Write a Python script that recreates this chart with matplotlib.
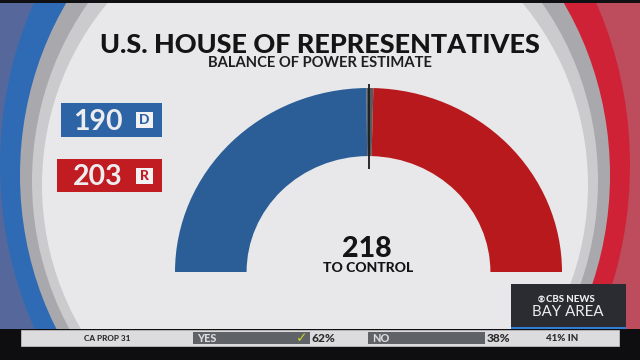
import matplotlib
matplotlib.use("Agg")
import matplotlib.pyplot as plt
import numpy as np
from matplotlib.patches import Rectangle, Ellipse, Circle

# seat estimate drawn on the gauge (435 seats, 218 to control)
gauge_parties = ["D", "Toss-up", "R"]
gauge_seats = [216, 5, 214]
gauge_colors = ["#2b5e97", "#565a61", "#b8191c"]
total_seats = 435
majority = 218

# seats called so far (labels on the left)
called_parties = ["D", "R"]
called_seats = [190, 203]
called_colors = ["#2d64a6", "#c11c21"]

# ticker at the bottom
ticker_race = "CA PROP 31"
ticker_answers = ["YES", "NO"]
ticker_pcts = [62, 38]
ticker_reporting = 41

plt.rcParams["font.family"] = ["Lato", "DejaVu Sans"]

fig = plt.figure(figsize=(6.4, 3.6), dpi=100)
ax = fig.add_axes([0, 0, 1, 1])
ax.set_xlim(0, 640)
ax.set_ylim(360, 0)
ax.axis("off")

# backdrop: blue half, red half, bezel rings and the light disc
left_half = Rectangle((0, 0), 315, 360, fc="#56689b", ec="none")
right_half = Rectangle((315, 0), 325, 360, fc="#bd4c5d", ec="none")
ax.add_patch(left_half)
ax.add_patch(right_half)
ring_b = Ellipse((315, 165), 630, 720, fc="#2f6bb4", ec="none")
ring_r = Ellipse((315, 165), 630, 720, fc="#cf2236", ec="none")
ax.add_patch(ring_b)
ax.add_patch(ring_r)
ring_b.set_clip_path(left_half)
ring_r.set_clip_path(right_half)
ax.add_patch(Ellipse((315, 175), 590, 640, fc="#a9a9ad", ec="none"))
ax.add_patch(Ellipse((315, 181), 566, 596, fc="#cbcbce", ec="none"))
ax.add_patch(Ellipse((315, 185), 546, 560, fc="#e8e8ea", ec="none"))

# black bars top and bottom
ax.add_patch(Rectangle((0, 0), 640, 3, fc="#101012", ec="none"))
ax.add_patch(Rectangle((0, 329), 640, 31, fc="#0e0e10", ec="none"))

renderer = fig.canvas.get_renderer()


def put(x, y, s, width, **kw):
    """Place text and scale its font so it spans `width` pixels."""
    t = ax.text(x, y, s, **kw)
    bb = t.get_window_extent(renderer=renderer)
    t.set_fontsize(t.get_fontsize() * width / bb.width)
    return t


# titles
put(320, 45, "U.S. HOUSE OF REPRESENTATIVES", 440, ha="center", va="center",
    fontsize=20, fontweight="black", color="#141414")
put(320, 63, "BALANCE OF POWER ESTIMATE", 223, ha="center", va="center",
    fontsize=8, fontweight="bold", color="#1e1e1e")

# called seat labels
boxes = [(61, 103, 101, 34), (57, 159, 105, 33)]
for (bx, by, bw, bh), n, p, c in zip(boxes, called_seats, called_parties,
                                     called_colors):
    ax.add_patch(Rectangle((bx, by), bw, bh, fc=c, ec="none"))
    ax.text(bx + bw - 39, by + bh / 2 + 1.5, str(n), ha="right", va="center",
            fontsize=20.5, fontweight="bold", color="#ededef")
    ax.add_patch(Rectangle((136, by + bh / 2 - 8), 17, 16, fc="#f2f2f4", ec="none"))
    ax.text(144.5, by + bh / 2 + 0.5, p, ha="center", va="center",
            fontsize=10, fontweight="black", color=c)

# gauge
gx = fig.add_axes([175 / 640, 88 / 360, 387 / 640, 184 / 360])
gx.patch.set_alpha(0)
hidden = total_seats
gx.pie(gauge_seats + [hidden], colors=gauge_colors + ["none"], startangle=180,
       counterclock=False, radius=1, wedgeprops=dict(width=0.37, linewidth=0))
gx.set_aspect("auto")
gx.set_xlim(-1, 1)
gx.set_ylim(0, 1)
gx.axis("off")
mx = np.cos(np.pi * (1 - majority / total_seats))
gx.plot([mx, mx], [0.56, 1.022], color="#1c1c1c", lw=1.3, clip_on=False,
        solid_capstyle="butt")

ax.text(367, 249, str(majority), ha="center", va="center",
        fontsize=20.5, fontweight="black", color="#141414")
put(368, 268.5, "TO CONTROL", 90, ha="center", va="center",
    fontsize=8, fontweight="black", color="#141414")

# CBS box
ax.add_patch(Rectangle((511, 284), 115, 45, fc="#2a2c31", ec="none"))
ax.add_patch(Rectangle((511, 326.5), 115, 2.5, fc="#2f80d4", ec="none"))
ax.add_patch(Circle((541.5, 299), 3.4, fc="#e4e4e6", ec="none"))
ax.add_patch(Ellipse((541.5, 299), 6.0, 3.2, fc="#2a2c31", ec="none"))
ax.add_patch(Circle((541.5, 299), 1.4, fc="#e4e4e6", ec="none"))
put(546, 299.5, "CBS NEWS", 49, ha="left", va="center",
    fontsize=8, fontweight="black", color="#ececee")
put(567.5, 312.5, "BAY AREA", 71, ha="center", va="center",
    fontsize=12, fontweight="normal", color="#ececee")

# ticker
ax.add_patch(Rectangle((21, 330), 598, 15.5, fc="#dcdcde", ec="#bdbdc0", lw=0.6))
put(107, 338.5, ticker_race, 47, ha="center", va="center",
    fontsize=7, fontweight="black", color="#2a2a2c")
bars = [193, 368]
for x0, ans, pct in zip(bars, ticker_answers, ticker_pcts):
    ax.add_patch(Rectangle((x0, 332), 117, 11.5, fc="#5f6367", ec="none"))
    ax.text(x0 + 4, 338.5, ans, ha="left", va="center", fontsize=7.8,
            fontweight="black", color="#dcdcde")
    put(x0 + 119, 338.5, f"{pct}%", 24, ha="left", va="center",
        fontsize=9, fontweight="black", color="#2a2a2c")
ax.text(bars[0] + 109, 338.5, "\u2713", ha="center", va="center", fontsize=10,
        fontweight="bold", color="#c6d12a", family="DejaVu Sans")
put(562, 338.5, f"{ticker_reporting}% IN", 32, ha="center", va="center",
    fontsize=8, fontweight="black", color="#2a2a2c")

fig.savefig("out.png", dpi=100)
